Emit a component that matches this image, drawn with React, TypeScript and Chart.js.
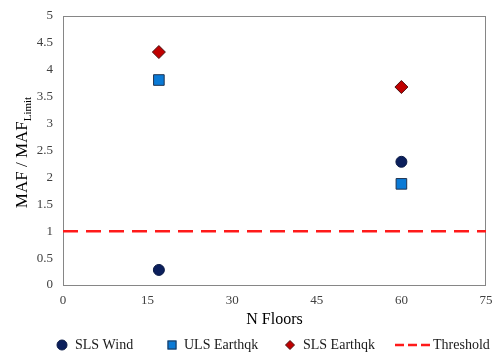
import React, { useEffect, useRef } from "react";
import { Chart, registerables } from "chart.js";
Chart.register(...registerables);

const floors = [17, 60];
const slsWind = [0.28, 2.29];
const ulsEarthqk = [3.81, 1.88];
const slsEarthqk = [4.33, 3.68];
const thresholdX = [0, 75];
const thresholdY = [1, 1];
const seriesNames = ["SLS Wind", "ULS Earthqk", "SLS Earthqk", "Threshold"];
const xTitle = "N Floors";
const yTitleMain = "MAF / MAF";
const yTitleSub = "Limit";

const FONT = "'Liberation Serif', 'Times New Roman', serif";

export default function App() {
  const ref = useRef<HTMLCanvasElement>(null);
  useEffect(() => {
    document.body.style.margin = "0";
    const pts = (ys: number[]) => floors.map((x, i) => ({ x, y: ys[i] }));
    const boxPlugin = {
      id: "boxPlugin",
      beforeDatasetsDraw(chart: any) {
        const { ctx, chartArea: a } = chart;
        ctx.save();
        ctx.strokeStyle = "#868686";
        ctx.lineWidth = 1;
        ctx.strokeRect(a.left + 0.5, a.top + 0.5, a.right - a.left - 1, a.bottom - a.top);
        ctx.restore();
      },
      afterDraw(chart: any) {
        const { ctx, chartArea: a } = chart;
        // y axis title with subscript
        ctx.save();
        ctx.fillStyle = "#000";
        ctx.textBaseline = "alphabetic";
        const cy = (a.top + a.bottom) / 2;
        ctx.translate(27, cy + 2);
        ctx.rotate(-Math.PI / 2);
        ctx.font = `17px ${FONT}`;
        const w1 = ctx.measureText(yTitleMain).width;
        ctx.font = `11px ${FONT}`;
        const w2 = ctx.measureText(yTitleSub).width;
        const start = -(w1 + w2) / 2;
        ctx.font = `17px ${FONT}`;
        ctx.fillText(yTitleMain, start, 0);
        ctx.font = `11px ${FONT}`;
        ctx.fillText(yTitleSub, start + w1, 4);
        ctx.restore();

        // legend
        const ds = chart.data.datasets;
        const ly = 345;
        const xs = [62, 172, 290, 0];
        ctx.save();
        ctx.font = `14px ${FONT}`;
        ctx.textBaseline = "middle";
        // circle
        ctx.beginPath();
        ctx.arc(xs[0], ly, 5, 0, Math.PI * 2);
        ctx.fillStyle = ds[0].backgroundColor;
        ctx.fill();
        ctx.strokeStyle = ds[0].borderColor;
        ctx.lineWidth = 1;
        ctx.stroke();
        ctx.fillStyle = "#1a1a1a";
        ctx.fillText(ds[0].label, xs[0] + 13, ly);
        // square
        ctx.fillStyle = ds[1].backgroundColor;
        ctx.fillRect(xs[1] - 4.5, ly - 4.5, 9, 9);
        ctx.strokeStyle = ds[1].borderColor;
        ctx.strokeRect(xs[1] - 4.5 + 0.5, ly - 4.5 + 0.5, 8, 8);
        ctx.fillStyle = "#1a1a1a";
        ctx.fillText(ds[1].label, xs[1] + 12, ly);
        // diamond
        ctx.beginPath();
        ctx.moveTo(xs[2], ly - 4.5);
        ctx.lineTo(xs[2] + 4.5, ly);
        ctx.lineTo(xs[2], ly + 4.5);
        ctx.lineTo(xs[2] - 4.5, ly);
        ctx.closePath();
        ctx.fillStyle = ds[2].backgroundColor;
        ctx.fill();
        ctx.strokeStyle = ds[2].borderColor;
        ctx.stroke();
        ctx.fillStyle = "#1a1a1a";
        ctx.fillText(ds[2].label, xs[2] + 13, ly);
        // dashed line
        ctx.beginPath();
        ctx.setLineDash([9, 4]);
        ctx.strokeStyle = ds[3].borderColor;
        ctx.lineWidth = 2.5;
        ctx.moveTo(395, ly);
        ctx.lineTo(431, ly);
        ctx.stroke();
        ctx.setLineDash([]);
        ctx.fillStyle = "#1a1a1a";
        ctx.fillText(ds[3].label, 433, ly);
        ctx.restore();
      },
    };
    const chart = new Chart(ref.current!, {
      type: "scatter",
      data: {
        datasets: [
          {
            label: seriesNames[0],
            data: pts(slsWind),
            pointStyle: "circle",
            pointRadius: 5.5,
            backgroundColor: "#0b1f5c",
            borderColor: "#0a1a45",
            borderWidth: 1,
          },
          {
            label: seriesNames[1],
            data: pts(ulsEarthqk),
            pointStyle: "rect",
            pointRadius: 7.5,
            backgroundColor: "#0a7ad6",
            borderColor: "#1f3350",
            borderWidth: 1,
          },
          {
            label: seriesNames[2],
            data: pts(slsEarthqk),
            pointStyle: "rectRot",
            pointRadius: 6.5,
            backgroundColor: "#c00000",
            borderColor: "#4a1010",
            borderWidth: 1,
          },
          {
            type: "line",
            label: seriesNames[3],
            data: thresholdX.map((x, i) => ({ x, y: thresholdY[i] })),
            borderColor: "#ff1a1a",
            borderWidth: 2.5,
            borderDash: [15, 8],
            pointRadius: 0,
            showLine: true,
            fill: false,
          } as any,
        ],
      },
      options: {
        animation: false,
        responsive: false,
        layout: { padding: { top: 16, right: 11, bottom: 20, left: 0 } },
        plugins: { legend: { display: false }, tooltip: { enabled: false } },
        scales: {
          x: {
            type: "linear",
            min: 0,
            max: 75,
            grid: { display: false, drawTicks: false },
            border: { display: false },
            ticks: {
              stepSize: 15,
              color: "#404040",
              font: { family: FONT, size: 13 },
              padding: 8,
            },
            title: {
              display: true,
              text: xTitle,
              color: "#000",
              font: { family: FONT, size: 16 },
              padding: { top: 0, bottom: 4 },
            },
            afterFit(scale: any) {
              scale.height = 48;
              scale.paddingLeft = 0;
              scale.paddingRight = 0;
            },
          },
          y: {
            min: 0,
            max: 5,
            grid: { display: false, drawTicks: false },
            border: { display: false },
            ticks: {
              stepSize: 0.5,
              color: "#404040",
              font: { family: FONT, size: 13 },
              padding: 10,
              callback: (v: any) => String(Number(v)),
            },
            afterFit(scale: any) {
              scale.width = 63;
              scale.paddingTop = 0;
              scale.paddingBottom = 0;
            },
          },
        },
      },
      plugins: [boxPlugin],
    });
    return () => chart.destroy();
  }, []);
  return (
    <div style={{ width: 497, height: 353 }}>
      <canvas ref={ref} width={497} height={353} style={{ display: "block", width: 497, height: 353 }} />
    </div>
  );
}
